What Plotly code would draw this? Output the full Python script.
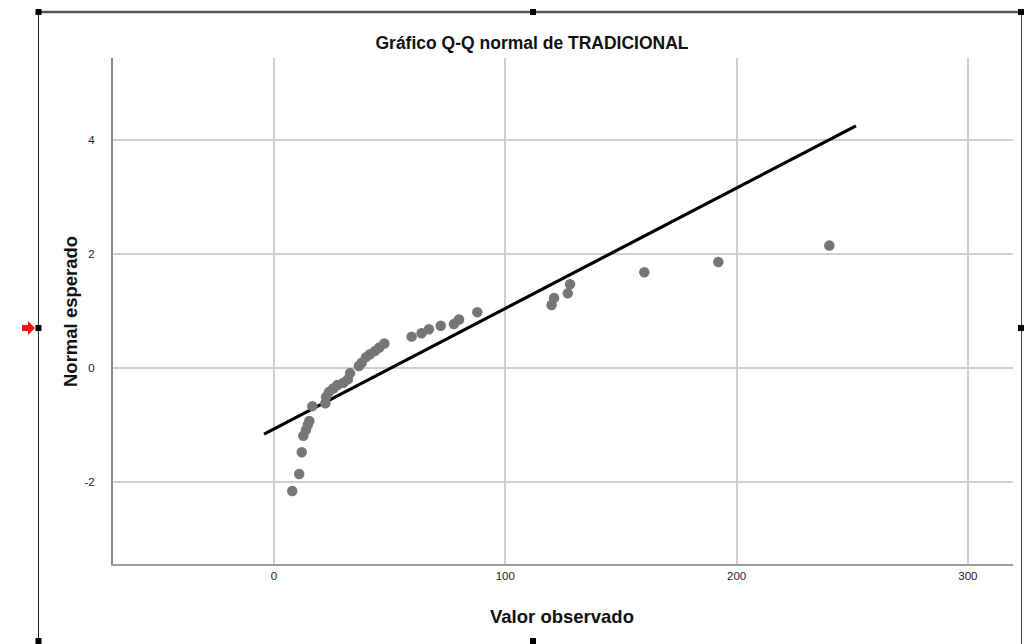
import plotly.graph_objects as go

# Observed values (x) and expected normal values (y)
observed = [7.9, 10.9, 12.0, 12.7, 13.8, 14.6, 15.3, 16.6, 22.2, 22.5, 23.8, 25.6,
            27.4, 30.0, 31.9, 32.9, 36.7, 37.9, 39.8, 41.5, 43.7, 45.5, 47.7,
            59.5, 63.8, 67.0, 72.1, 77.8, 80.0, 87.9,
            120.0, 121.1, 127.0, 128.0, 160.1, 192.1, 240.1]
expected = [-2.16, -1.86, -1.48, -1.19, -1.09, -1.00, -0.93, -0.67, -0.62, -0.51, -0.42, -0.36,
            -0.30, -0.26, -0.20, -0.09, 0.035, 0.09, 0.19, 0.24, 0.30, 0.36, 0.43,
            0.55, 0.61, 0.68, 0.74, 0.77, 0.85, 0.98,
            1.105, 1.23, 1.31, 1.47, 1.68, 1.86, 2.15]

# Reference line end points
line_x = [-4.3, 251.6]
line_y = [-1.16, 4.25]

x_ticks = [0, 100, 200, 300]
x_labels = ["0", "100", "200", "300"]
y_ticks = [-2, 0, 2, 4]
y_labels = ["-2", "0", "2", "4"]

W, H = 1024, 644
ML, MR, MT, MB = 113, 11, 58, 80
PW, PH = W - ML - MR, H - MT - MB

def px(x):
    return (x - ML) / PW

def py(y):
    return (H - MB - y) / PH

fig = go.Figure()
fig.add_trace(go.Scatter(x=line_x, y=line_y, mode="lines",
                         line=dict(color="black", width=3.2), hoverinfo="skip"))
fig.add_trace(go.Scatter(x=observed, y=expected, mode="markers",
                         marker=dict(color="#767676", size=10.5, line=dict(width=0))))

FONT = "Liberation Sans, Arial, sans-serif"

shapes = []
# selection frame decorations
shapes.append(dict(type="line", xref="paper", yref="paper", x0=px(38), x1=px(1021), y0=py(12), y1=py(12),
                   line=dict(color="#555555", width=2.5)))
shapes.append(dict(type="line", xref="paper", yref="paper", x0=px(38.5), x1=px(38.5), y0=py(12), y1=py(644),
                   line=dict(color="#222222", width=1)))
shapes.append(dict(type="line", xref="paper", yref="paper", x0=px(1021.5), x1=px(1021.5), y0=py(12), y1=py(644),
                   line=dict(color="#444444", width=1)))
for hx, hy in [(38.5, 12), (533, 12), (1021, 12), (38.5, 328), (1021, 328), (38.5, 641), (533, 641)]:
    shapes.append(dict(type="rect", xref="paper", yref="paper",
                       x0=px(hx - 3), x1=px(hx + 3), y0=py(hy - 3), y1=py(hy + 3),
                       fillcolor="black", line=dict(width=0)))
# red arrow
shapes.append(dict(type="path", xref="paper", yref="paper",
                   path="M {} {} L {} {} L {} {} L {} {} L {} {} L {} {} L {} {} Z".format(
                       px(22), py(325), px(28), py(325), px(28), py(321), px(35), py(328),
                       px(28), py(335), px(28), py(331), px(22), py(331)),
                   fillcolor="#ff1010", line=dict(width=0)))

annotations = [
    dict(text="<b>Valor observado</b>", xref="paper", yref="paper", x=px(562), y=py(616),
         showarrow=False, font=dict(family=FONT, size=18.5, color="#111111"),
         xanchor="center", yanchor="middle"),
    dict(text="<b>Normal esperado</b>", xref="paper", yref="paper", x=px(70), y=py(312),
         showarrow=False, textangle=-90, font=dict(family=FONT, size=18.5, color="#111111"),
         xanchor="center", yanchor="middle"),
]

fig.update_layout(
    width=W, height=H,
    margin=dict(l=ML, r=MR, t=MT, b=MB),
    paper_bgcolor="white", plot_bgcolor="white",
    showlegend=False,
    title=dict(text="<b>Gráfico Q-Q normal de TRADICIONAL</b>", x=532 / W, y=1 - 43 / H,
               xanchor="center", yanchor="middle",
               font=dict(family=FONT, size=17.5, color="#111111")),
    xaxis=dict(range=[-69.6, 319.5], tickvals=x_ticks, ticktext=x_labels,
               showgrid=True, gridcolor="#cfcfcf", gridwidth=1.5,
               zeroline=False, showline=True, linecolor="#9a9a9a", linewidth=1.5,
               ticks="", tickfont=dict(family=FONT, size=11.5, color="#222222")),
    yaxis=dict(range=[-3.44, 5.44], tickvals=y_ticks, ticktext=y_labels,
               showgrid=True, gridcolor="#cfcfcf", gridwidth=1.5,
               zeroline=False, showline=True, linecolor="#8a8a8a", linewidth=2,
               ticks="", ticklabelstandoff=14, tickfont=dict(family=FONT, size=11.5, color="#222222")),
    shapes=shapes,
    annotations=annotations,
)

fig.write_html("out.html")
